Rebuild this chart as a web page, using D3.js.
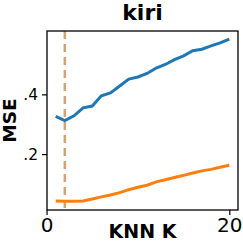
<!DOCTYPE html>
<html>
<head>
<meta charset="utf-8">
<script src="https://cdn.jsdelivr.net/npm/d3@7"></script>
<style>
  body { margin: 0; background: #fff; }
  text { font-family: "DejaVu Sans", sans-serif; }
</style>
</head>
<body>
<svg id="chart" width="243" height="246"></svg>
<script>
// valores
const kValores = [1, 2, 3, 4, 5, 6, 7, 8, 9, 10, 11, 12, 13, 14, 15, 16, 17, 18, 19, 20];
const mseAzul = [0.326, 0.312, 0.328, 0.355, 0.361, 0.395, 0.405, 0.428, 0.451, 0.458,
                 0.470, 0.488, 0.500, 0.516, 0.529, 0.546, 0.551, 0.562, 0.572, 0.585];
const mseNaranja = [0.043, 0.042, 0.042, 0.043, 0.050, 0.057, 0.063, 0.071, 0.081, 0.089,
                    0.096, 0.107, 0.114, 0.122, 0.129, 0.137, 0.144, 0.149, 0.156, 0.163];
const kMejor = 2;
const ticksX = [0, 20];
const ticksY = [0.2, 0.4];
const titulo = "kiri";

const svg = d3.select("#chart");
const margen = { left: 47, right: 5, top: 31, bottom: 36 };
const ancho = 243 - margen.left - margen.right;
const alto = 246 - margen.top - margen.bottom;

const x = d3.scaleLinear().domain([0.05, 20.95]).range([margen.left, margen.left + ancho]);
const y = d3.scaleLinear().domain([0.013, 0.612]).range([margen.top + alto, margen.top]);

// linea vertical del mejor K
svg.append("line")
    .attr("x1", x(kMejor)).attr("x2", x(kMejor))
    .attr("y1", margen.top).attr("y2", margen.top + alto)
    .attr("stroke", "#d4a373")
    .attr("stroke-width", 2.5)
    .attr("stroke-dasharray", "8,5");

const linea = d3.line().x((d, i) => x(kValores[i])).y(d => y(d));

svg.append("path").datum(mseAzul)
    .attr("d", linea).attr("fill", "none")
    .attr("stroke", "#1f77b4").attr("stroke-width", 3);

svg.append("path").datum(mseNaranja)
    .attr("d", linea).attr("fill", "none")
    .attr("stroke", "#ff7f0e").attr("stroke-width", 3);

// ejes
const ejeX = svg.append("g")
    .attr("transform", "translate(0," + (margen.top + alto) + ")")
    .call(d3.axisBottom(x).tickValues(ticksX).tickSize(5).tickPadding(2.5).tickFormat(d3.format("d")));
const ejeY = svg.append("g")
    .attr("transform", "translate(" + margen.left + ",0)")
    .call(d3.axisLeft(y).tickValues(ticksY).tickSize(5).tickPadding(4)
        .tickFormat(d => d3.format(".1f")(d).replace(/^0/, "")));

[ejeX, ejeY].forEach(eje => {
  eje.select(".domain").remove();
  eje.selectAll("text").attr("fill", "#000")
      .style("font-family", "DejaVu Sans, sans-serif");
  eje.selectAll("line").attr("stroke", "#000").attr("stroke-width", 1.2);
});
ejeX.selectAll("text").attr("font-size", 20);
ejeY.selectAll("text").attr("font-size", 15.5);

// marco
svg.append("rect")
    .attr("x", margen.left).attr("y", margen.top)
    .attr("width", ancho).attr("height", alto)
    .attr("fill", "none").attr("stroke", "#000").attr("stroke-width", 1.3);

svg.append("text")
    .attr("x", margen.left + ancho / 2).attr("y", 19.5)
    .attr("text-anchor", "middle")
    .attr("font-size", 22).attr("font-weight", "bold")
    .text(titulo);

svg.append("text")
    .attr("x", margen.left + ancho / 2).attr("y", 237.5)
    .attr("text-anchor", "middle")
    .attr("font-size", 19).attr("font-weight", "bold")
    .text("KNN K");

svg.append("text")
    .attr("transform", "translate(16," + (margen.top + alto / 2) + ") rotate(-90)")
    .attr("text-anchor", "middle")
    .attr("font-size", 18.5).attr("font-weight", "bold")
    .text("MSE");
</script>
</body>
</html>
